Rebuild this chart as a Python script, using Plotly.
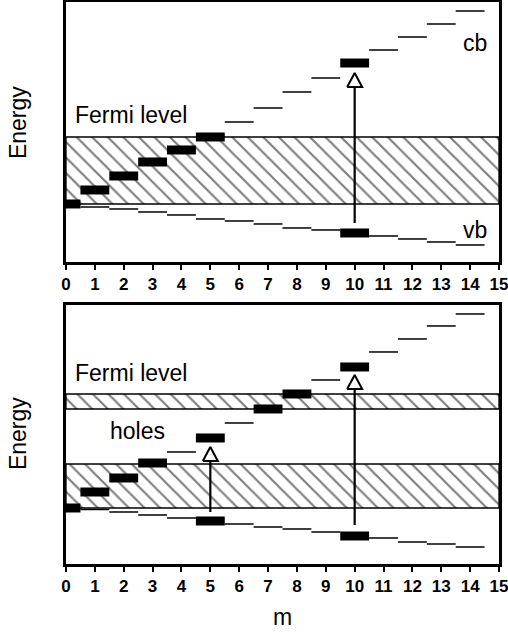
import plotly.graph_objects as go

FONT = "Liberation Sans, Arial, Helvetica, sans-serif"
TICKFONT = "Liberation Sans Narrow, Arial Narrow, Liberation Sans, Arial, sans-serif"

m = list(range(15))

# Top panel energies (arbitrary units, 0 = band edge)
top_cb = [0.0, 1.4, 2.8, 4.2, 5.4, 6.7, 8.2, 9.6, 11.2, 12.6, 14.1, 15.4, 16.7, 18.0, 19.3]
top_vb = [-0.05, -0.3, -0.5, -0.8, -1.1, -1.5, -1.7, -2.0, -2.4, -2.6, -2.9, -3.2, -3.5, -3.8, -4.1]
top_cb_occ = [0, 1, 2, 3, 4, 5, 10]
top_vb_occ = [10]
top_bands = [(0.0, 6.7)]
top_arrows_m = [10]
top_arrows_from = [-1.9]
top_arrows_to = [13.1]

# Bottom panel energies
bot_cb = [0.0, 1.6, 3.0, 4.5, 5.6, 7.0, 8.5, 9.9, 11.4, 12.8, 14.1, 15.6, 16.9, 18.2, 19.4]
bot_vb = [-0.05, -0.15, -0.4, -0.7, -1.0, -1.3, -1.6, -1.9, -2.1, -2.4, -2.8, -3.0, -3.4, -3.6, -3.9]
bot_cb_occ = [0, 1, 2, 3, 5, 7, 8, 10]
bot_vb_occ = [5, 10]
bot_bands = [(0.0, 4.4), (9.9, 11.4)]
bot_arrows_m = [5, 10]
bot_arrows_from = [-0.4, -1.7]
bot_arrows_to = [6.1, 13.3]

x_ticks = list(range(16))

fig = go.Figure()

def add_panel(row, cb, vb, cb_occ, vb_occ, bands, am, afrom, ato):
    xa = "x" if row == 1 else "x2"
    ya = "y" if row == 1 else "y2"
    # hatched bands
    for lo, hi in bands:
        fig.add_trace(go.Scatter(
            x=[0, 15, 15, 0, 0], y=[lo, lo, hi, hi, lo], mode="lines",
            fill="toself", fillcolor="white",
            fillpattern=dict(shape="\\", fgcolor="black", bgcolor="white", size=11, solidity=0.2),
            line=dict(color="black", width=1.3), xaxis=xa, yaxis=ya, hoverinfo="skip"))
    # thin levels
    tx, ty = [], []
    for band, occ in ((cb, cb_occ), (vb, vb_occ)):
        for k, e in zip(m, band):
            if k not in occ:
                tx += [k - 0.5, k + 0.5, None]
                ty += [e, e, None]
    fig.add_trace(go.Scatter(x=tx, y=ty, mode="lines", line=dict(color="black", width=1.5),
                             xaxis=xa, yaxis=ya, hoverinfo="skip"))
    # thick (occupied) levels
    bx, by = [], []
    for band, occ in ((cb, cb_occ), (vb, vb_occ)):
        for k in occ:
            e = band[k]
            bx += [k - 0.5, k + 0.5, None]
            by += [e, e, None]
    fig.add_trace(go.Scatter(x=bx, y=by, mode="lines", line=dict(color="black", width=9),
                             xaxis=xa, yaxis=ya, hoverinfo="skip"))
    # arrows
    hw, hh = 0.26, 1.4
    for k, e0, e1 in zip(am, afrom, ato):
        fig.add_trace(go.Scatter(x=[k, k], y=[e0, e1 - hh], mode="lines",
                                 line=dict(color="black", width=2.2), xaxis=xa, yaxis=ya, hoverinfo="skip"))
        fig.add_trace(go.Scatter(x=[k - hw, k + hw, k, k - hw], y=[e1 - hh, e1 - hh, e1, e1 - hh],
                                 mode="lines", fill="toself", fillcolor="white",
                                 line=dict(color="black", width=2), xaxis=xa, yaxis=ya, hoverinfo="skip"))

add_panel(1, top_cb, top_vb, top_cb_occ, top_vb_occ, top_bands, top_arrows_m, top_arrows_from, top_arrows_to)
add_panel(2, bot_cb, bot_vb, bot_cb_occ, bot_vb_occ, bot_bands, bot_arrows_m, bot_arrows_from, bot_arrows_to)

ax_common = dict(range=[0, 15], tickvals=x_ticks, ticktext=["<b>%d</b>" % t for t in x_ticks],
                 ticks="outside", ticklen=5, tickwidth=1.5, tickcolor="black",
                 ticklabeloverflow="allow", automargin=False,
                 showline=True, mirror=True, linecolor="black", linewidth=2.5,
                 showgrid=False, zeroline=False,
                 tickfont=dict(family=TICKFONT, size=17, color="black"))
ay_common = dict(showline=True, mirror=True, linecolor="black", linewidth=2.5,
                 showgrid=False, zeroline=False, showticklabels=False, ticks="", automargin=False)

fig.update_layout(
    width=508, height=633, margin=dict(l=66, r=9, t=2, b=69, autoexpand=False),
    paper_bgcolor="white", plot_bgcolor="white", showlegend=False,
    xaxis=dict(domain=[0, 1], anchor="y", **ax_common),
    yaxis=dict(domain=[0.5374, 1], anchor="x", range=[-5.8, 20.2], **ay_common),
    xaxis2=dict(domain=[0, 1], anchor="y2", **ax_common),
    yaxis2=dict(domain=[0, 0.4609], anchor="x2", range=[-5.6, 20.3], **ay_common),
)

tf = dict(family=FONT, size=23, color="black")
ann = [
    dict(text="Fermi level", x=0.24, y=8.9, xref="x", yref="y", xanchor="left", yanchor="middle"),
    dict(text="cb", x=14.17, y=16.1, xref="x", yref="y", xanchor="center", yanchor="middle"),
    dict(text="vb", x=14.17, y=-2.6, xref="x", yref="y", xanchor="center", yanchor="middle"),
    dict(text="0", x=-0.24, y=0, xref="x", yref="y", xanchor="right", yanchor="middle"),
    dict(text="Energy", x=-0.1106, y=8.1, xref="x domain", yref="y", xanchor="center", yanchor="middle", textangle=-90),
    dict(text="Fermi level", x=0.24, y=13.5, xref="x2", yref="y2", xanchor="left", yanchor="middle"),
    dict(text="holes", x=1.45, y=7.65, xref="x2", yref="y2", xanchor="left", yanchor="middle"),
    dict(text="0", x=-0.24, y=0, xref="x2", yref="y2", xanchor="right", yanchor="middle"),
    dict(text="Energy", x=-0.1106, y=7.4, xref="x2 domain", yref="y2", xanchor="center", yanchor="middle", textangle=-90),
    dict(text="m", x=0.5, y=-0.0943, xref="paper", yref="paper", xanchor="center", yanchor="middle"),
]
for a in ann:
    a.update(showarrow=False, font=tf)
fig.update_layout(annotations=ann)

fig.write_html("out.html")
